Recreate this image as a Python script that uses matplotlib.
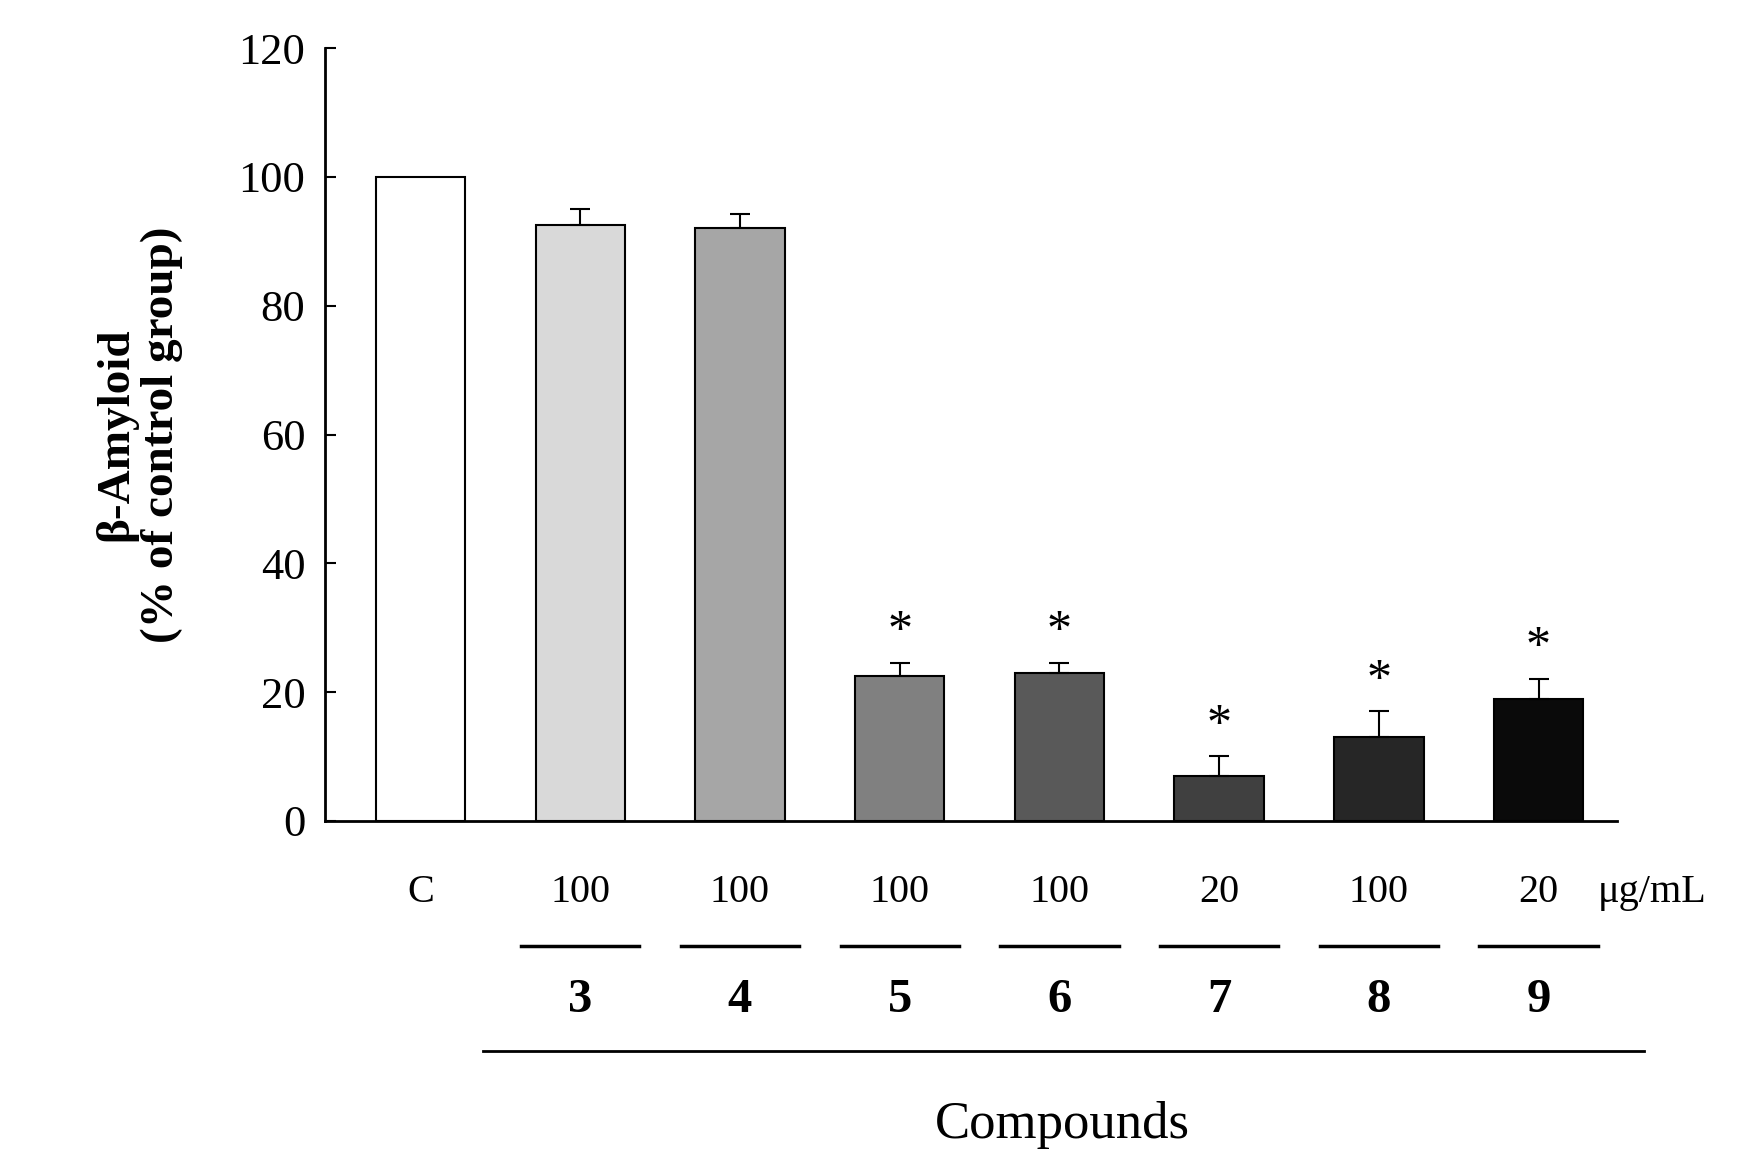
import matplotlib
matplotlib.use("Agg")
import matplotlib.pyplot as plt

plt.rcParams['font.family'] = ['Liberation Serif', 'DejaVu Serif']

groups = ["C", "3", "4", "5", "6", "7", "8", "9"]
doses = ["C", "100", "100", "100", "100", "20", "100", "20"]
values = [100, 92.5, 92, 22.5, 23, 7, 13, 19]
errors = [0, 2.5, 2.3, 2.0, 1.5, 3.0, 4.0, 3.0]
signif = [False, False, False, True, True, True, True, True]
colors = ["#ffffff", "#d9d9d9", "#a6a6a6", "#808080", "#595959", "#404040", "#262626", "#0a0a0a"]

fig = plt.figure(figsize=(17.46, 11.76), dpi=100)
ax = fig.add_axes([0.186, 0.302, 0.74, 0.657])
x = list(range(len(values)))
ax.bar(x, values, width=0.56, color=colors, edgecolor="black", linewidth=1.5)
for xi, v, e, s in zip(x, values, errors, signif):
    if e > 0:
        ax.errorbar(xi, v, yerr=[[0], [e]], color="black", capsize=7, capthick=1.5, elinewidth=1.5)
    if s:
        ax.text(xi, v + e + 1.2, "*", ha="center", va="bottom", fontsize=36)

ax.set_xlim(-0.6, 7.49)
ax.set_ylim(0, 120)
ax.set_yticks(range(0, 121, 20))
ax.tick_params(axis='y', labelsize=32, direction='in', length=8, width=1.5, pad=14)
ax.set_xticks([])
for sp in ["top", "right"]:
    ax.spines[sp].set_visible(False)
for sp in ["left", "bottom"]:
    ax.spines[sp].set_linewidth(2)

ax.set_ylabel("β-Amyloid\n(% of control group)", fontsize=34, fontweight="bold", labelpad=40, linespacing=1.1)

for xi, d, g in zip(x, doses, groups):
    ax.text(xi, -11.1, d, ha="center", va="center", fontsize=29, clip_on=False)
    if g != "C":
        ax.plot([xi - 0.37, xi + 0.37], [-19.5, -19.5], color="black", lw=2.5, clip_on=False)
        ax.text(xi, -27.8, g, ha="center", va="center", fontsize=35, fontweight="bold", clip_on=False)
ax.text(7.37, -11.1, "μg/mL", ha="left", va="center", fontsize=29, clip_on=False)
ax.plot([0.39, 7.66], [-35.7, -35.7], color="black", lw=2, clip_on=False)
ax.text(4.02, -47.3, "Compounds", ha="center", va="center", fontsize=38, clip_on=False)

fig.savefig("out.png", dpi=100)
